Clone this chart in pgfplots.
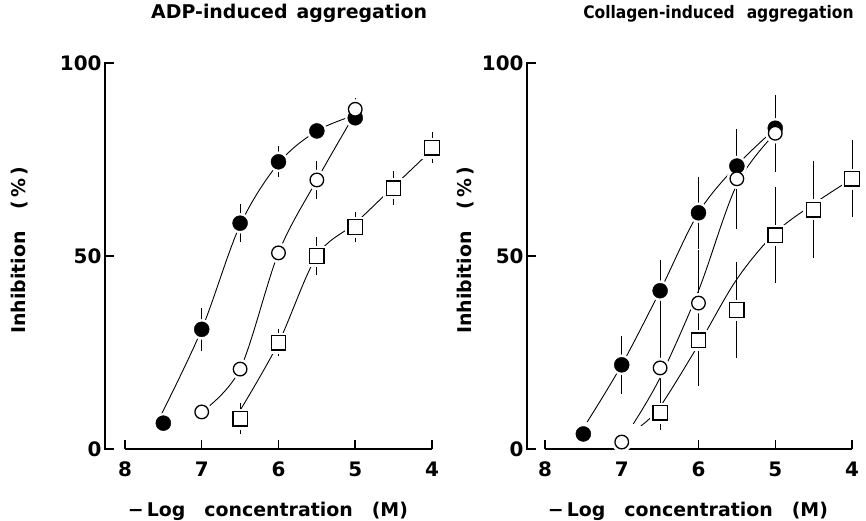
\documentclass[border=0pt]{standalone}
\usepackage{fontspec}
\setmainfont{DejaVu Sans}
\newfontfamily\condfont{DejaVu Sans Condensed}
\usepackage{pgfplots}
\usepackage{pgfplotstable}
\pgfplotsset{compat=1.18}

% ADP panel data: x = -log concentration, y = inhibition (%), e = error
\pgfplotstableread{
x y e
7.5 6.7 0
7 31 5.5
6.5 58.5 5
6 74.4 4
5.5 82.4 2.5
5 85.8 2.5
}\adpF
\pgfplotstableread{
x y e
7 9.6 1.5
6.5 20.7 2
6 50.8 1.5
5.5 69.7 5
5 88 3
}\adpO
\pgfplotstableread{
x y e
6.5 7.8 4
6 27.5 3.5
5.5 50 5
5 57.5 4
4.5 67.6 4.5
4 78 4
}\adpS
% Collagen panel data
\pgfplotstableread{
x y e
7.5 3.9 0
7 21.8 7.5
6.5 41 8
6 61.2 9.3
5.5 73.3 9
5 83.1 4.5
}\colF
\pgfplotstableread{
x y e
7 1.8 0
6.5 21 12
6 37.8 13.7
5.5 70 13
5 81.8 10
}\colO
\pgfplotstableread{
x y e
6.5 9.4 4.5
6 28.2 12
5.5 36 12.5
5 55.4 12.5
4.5 62 12.5
4 70 10
}\colS
% fitted curves
\pgfplotstableread{
x y
7.55 8
7 31
6.5 58
6 74
5.5 82.4
5 86.5
}\adpFc
\pgfplotstableread{
x y
7 9.6
6.5 20.7
6 50.8
5.5 69.7
5 87
}\adpOc
\pgfplotstableread{
x y
6.5 10
6 27.5
5.5 50
5 58.5
4.5 68
4 77.5
}\adpSc
\pgfplotstableread{
x y
7.45 7
7 21.8
6.5 41
6 61.2
5.5 73.5
5 83
}\colFc
\pgfplotstableread{
x y
6.85 6.5
6.5 18.5
6 41
5.5 68.5
5 81.8
}\colOc
\pgfplotstableread{
x y
6.75 6
6.5 11
6 27
5.5 44
5 56
4.5 63.5
4 70
}\colSc

\pgfplotsset{
  panel/.style={
    scale only axis, height=386bp,
    x dir=reverse, xmin=4, ymin=0, ymax=100,
    axis line style={draw=none},
    xtick={4,5,6,7,8}, ytick={0,50,100},
    xtick pos=bottom, ytick pos=left,
    tick align=inside, major tick length=9bp,
    tick style={black, line width=1.5bp},
    /pgf/number format/assume math mode=true,
    ticklabel style={font=\fontsize{20}{24}\selectfont\bfseries},
    xticklabel style={yshift=-9bp},
    label style={font=\fontsize{19}{23}\selectfont\bfseries},
    title style={anchor=base},
    clip=false,
  },
  curve/.style={black, line width=0.9bp, smooth, tension=0.55, no marks},
  halo/.style={only marks, mark=*, mark size=10bp, white, mark options={draw=white, fill=white}},
  halosq/.style={only marks, mark=square*, mark size=10bp, white, mark options={draw=white, fill=white}},
  errb/.style={only marks, black,
    error bars/y dir=both, error bars/y explicit, error bars/error mark=none,
    error bars/error bar style={line width=0.8bp, black}},
  fc/.style={errb, mark=*, mark size=7.5bp, mark options={fill=black, draw=black}},
  oc/.style={errb, mark=*, mark size=6.8bp, mark options={fill=white, draw=black, line width=1.3bp}},
  sq/.style={errb, mark=square*, mark size=7.2bp, mark options={fill=white, draw=black, line width=1.3bp}},
}

\begin{document}
\begin{tikzpicture}[x=1bp,y=1bp]
\useasboundingbox (0,0) rectangle (866,521);

\begin{axis}[panel, width=327bp, xmax=8.26,
  at={(105bp,72bp)}, anchor=south west,
  title={ADP-induced\hspace{9bp}aggregation},
  title style={at={(axis description cs:0.563,1.101)}, font=\fontsize{19}{23}\selectfont\bfseries},
  xlabel={\textminus\,Log\hspace{19bp}concentration\hspace{19bp}(M)},
  xlabel style={at={(axis description cs:0.498,-0.174)}, anchor=base},
  ylabel={Inhibition\hspace{22bp}(\,\%\,)},
  ylabel style={at={(axis description cs:-0.26,0.515)}, anchor=center},
]
\draw[line width=1.6bp, line cap=rect] (axis cs:8.26,0) -- (axis cs:8.26,100);
\draw[line width=1.6bp] (axis cs:8,0) -- (axis cs:4,0);
\addplot[curve] table {\adpFc};
\addplot[curve] table {\adpOc};
\addplot[curve] table {\adpSc};
\addplot[halo] table {\adpF};
\addplot[halo] table {\adpO};
\addplot[halosq] table {\adpS};
\addplot[fc] table[y error=e] {\adpF};
\addplot[oc] table[y error=e] {\adpO};
\addplot[sq] table[y error=e] {\adpS};
\end{axis}

\begin{axis}[panel, width=325bp, xmax=8.234,
  at={(527bp,72bp)}, anchor=south west,
  title={Collagen-induced\hspace{12bp}aggregation},
  title style={at={(axis description cs:0.589,1.101)}, font=\condfont\fontsize{17.3}{21}\selectfont\bfseries},
  xlabel={\textminus\,Log\hspace{19bp}concentration\hspace{19bp}(M)},
  xlabel style={at={(axis description cs:0.495,-0.174)}, anchor=base},
  ylabel={Inhibition\hspace{22bp}(\,\%\,)},
  ylabel style={at={(axis description cs:-0.19,0.515)}, anchor=center},
]
\draw[line width=1.6bp, line cap=rect] (axis cs:8.234,0) -- (axis cs:8.234,100);
\draw[line width=1.6bp] (axis cs:8,0) -- (axis cs:4,0);
\addplot[curve] table {\colFc};
\addplot[curve] table {\colOc};
\addplot[curve] table {\colSc};
\addplot[halo] table {\colF};
\addplot[halo] table {\colO};
\addplot[halosq] table {\colS};
\addplot[fc] table[y error=e] {\colF};
\addplot[oc] table[y error=e] {\colO};
\addplot[sq] table[y error=e] {\colS};
\end{axis}
\end{tikzpicture}
\end{document}
